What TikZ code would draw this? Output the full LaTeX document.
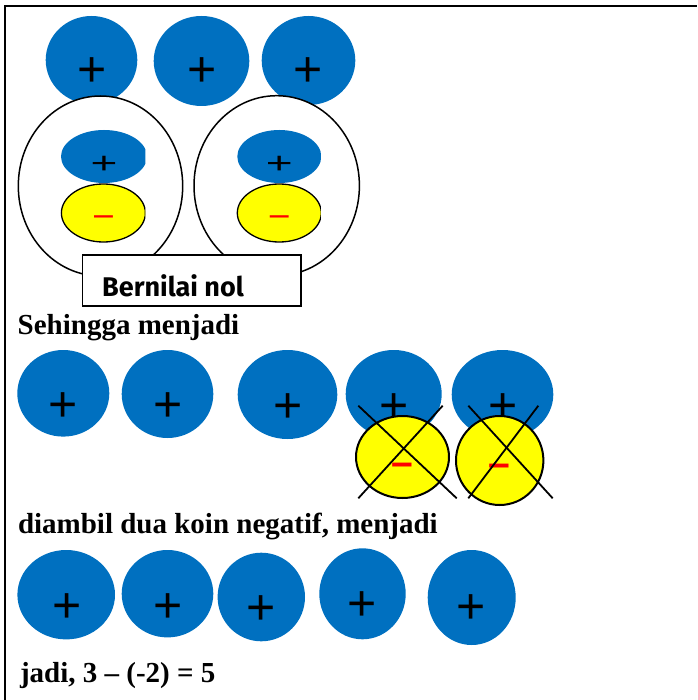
\documentclass[tikz,border=0pt]{standalone}
\usepackage{fontspec}
\usepackage{graphicx}
\setmainfont{Liberation Serif}
\newfontfamily\plusfont{Liberation Sans}
\newfontfamily\boxfont{Fira Sans}
\usetikzlibrary{shapes.geometric}
\definecolor{coinblue}{HTML}{0070C0}
\definecolor{coinyellow}{HTML}{FFFF00}
\definecolor{minusred}{HTML}{FF0000}
\begin{document}
\begin{tikzpicture}[x=1pt,y=-1pt,
  coin/.style={ellipse, fill=coinblue, draw=none, inner sep=0pt, outer sep=0pt},
  negcoin/.style={ellipse, fill=coinyellow, draw=black, inner sep=0pt, outer sep=0pt},
  pair/.style={ellipse, fill=white, draw=black, line width=1.5pt, inner sep=0pt},
  plussign/.style={font=\plusfont\fontsize{50}{50}\selectfont, inner sep=0pt, anchor=base, yshift=-17.6pt},
  smallplus/.style={font=\plusfont\fontsize{46}{46}\selectfont, inner sep=0pt, anchor=base, yshift=-10.5pt},
  minussmall/.style={font=\plusfont\fontsize{34}{34}\selectfont, text=minusred, inner sep=0pt, anchor=base, yshift=-8.7pt},
  minusbig/.style={font=\plusfont\bfseries\fontsize{39}{39}\selectfont, text=minusred, inner sep=0pt, anchor=base, yshift=-10.1pt},
  caption/.style={font=\bfseries\fontsize{29}{34}\selectfont, inner sep=0pt, anchor=base west},
  crossline/.style={line width=1.8pt, black}
]
\useasboundingbox (0,0) rectangle (697,700);
% frame
\draw[line width=2pt] (5,700) -- (5,6) -- (697,6);

% top row of positive coins
\node[coin, minimum width=91.6pt, minimum height=88pt] (t1) at (91.5,60) {};
\node[coin, minimum width=95.6pt, minimum height=90pt] (t2) at (201.5,61) {};
\node[coin, minimum width=93.6pt, minimum height=89pt] (t3) at (308.5,60.5) {};
\node[plussign] (t1p) at (91.7,69) {+};
\node[plussign] (t2p) at (201.7,69) {+};
\node[plussign] (t3p) at (308.3,69) {+};

% zero pairs
\node[pair, minimum width=164.4pt, minimum height=180pt] (z1) at (100.5,186) {};
\node[pair, minimum width=165.4pt, minimum height=180pt] (z2) at (276.7,185.7) {};

\begin{scope}
\clip (50,120) rectangle (145.3,242.5);
\node[coin, minimum width=86pt, minimum height=53pt] (z1b) at (104,156.5) {};
\node[negcoin, line width=1.3pt, minimum width=84pt, minimum height=58pt] (z1y) at (103.4,213) {};
\end{scope}
\begin{scope}
\clip (225,120) rectangle (320.8,242.5);
\node[coin, minimum width=84pt, minimum height=53pt] (z2b) at (279.3,156.5) {};
\node[negcoin, line width=1.3pt, minimum width=84pt, minimum height=58pt] (z2y) at (279.3,213) {};
\end{scope}
\node[smallplus] (z1bp) at (104,162.7) {\scalebox{1}[0.65]{+}};
\node[smallplus] (z2bp) at (279.3,162.7) {\scalebox{1}[0.65]{+}};
\node[minussmall] (z1ym) at (103.5,217) {–};
\node[minussmall] (z2ym) at (279.3,217) {–};

% label box
\node[draw=black, fill=white, line width=1.6pt, inner sep=0pt, minimum width=218.7pt, minimum height=51pt] (bn) at (191.65,280.5) {};
\node[font=\boxfont\bfseries\fontsize{27}{30}\selectfont, inner sep=0pt, anchor=base west] (bntext) at (102,296) {Bernilai nol};

\node[caption] (c1) at (17.5,334.5) {Sehingga menjadi};

% middle row
\node[coin, minimum width=92pt, minimum height=86.6pt] (m1) at (63.3,393.3) {};
\node[coin, minimum width=91.6pt, minimum height=88pt] (m2) at (167.5,394) {};
\node[coin, minimum width=99.6pt, minimum height=89pt] (m3) at (287.5,394.5) {};
\node[coin, minimum width=96pt, minimum height=88pt] (m4) at (393.7,394) {};
\node[coin, minimum width=101.6pt, minimum height=89pt] (m5) at (502.5,394.5) {};
\node[plussign] (m1p) at (63.3,404.3) {+};
\node[plussign] (m2p) at (167.7,404.3) {+};
\node[plussign] (m3p) at (288,405) {+};
\node[plussign] (m4p) at (394,405) {+};
\node[plussign] (m5p) at (502.7,405) {+};
\node[negcoin, line width=2pt, minimum width=93pt, minimum height=82pt] (n1) at (402.5,457) {};
\node[negcoin, line width=2pt, minimum width=87.4pt, minimum height=89pt] (n2) at (499.7,460.5) {};
\node[minusbig] (n1m) at (402.7,465) {–};
\node[minusbig] (n2m) at (499.3,466.7) {–};
% crosses
\coordinate (x1a) at (358.3,405.7);
\coordinate (x1b) at (456.7,498.3);
\coordinate (x1c) at (442.7,405.7);
\coordinate (x1d) at (358.3,498.3);
\coordinate (x2a) at (468.3,405.7);
\coordinate (x2b) at (552.7,498.3);
\coordinate (x2c) at (538.3,405.7);
\coordinate (x2d) at (468.3,498.3);
\draw[crossline] (x1a) -- (x1b);
\draw[crossline] (x1c) -- (x1d);
\draw[crossline] (x2a) -- (x2b);
\draw[crossline] (x2c) -- (x2d);

\node[caption] (c2) at (17.8,533.5) {diambil dua koin negatif, menjadi};

% bottom row
\node[coin, minimum width=97.6pt, minimum height=89.4pt] (b1) at (66.2,594.7) {};
\node[coin, minimum width=91.6pt, minimum height=87.4pt] (b2) at (167.5,593.7) {};
\node[coin, minimum width=87.4pt, minimum height=88.6pt] (b3) at (261.3,597) {};
\node[coin, minimum width=86.4pt, minimum height=91pt] (b4) at (362.5,593.8) {};
\node[coin, minimum width=88pt, minimum height=95pt] (b5) at (471.7,597.5) {};
\node[plussign] (b1p) at (66.7,605) {+};
\node[plussign] (b2p) at (167.7,605) {+};
\node[plussign] (b3p) at (261,606.7) {+};
\node[plussign] (b4p) at (362.3,603.3) {+};
\node[plussign] (b5p) at (471,606) {+};

\node[caption] (c3) at (19.8,682) {jadi, 3 – (-2) = 5};
\end{tikzpicture}
\end{document}
